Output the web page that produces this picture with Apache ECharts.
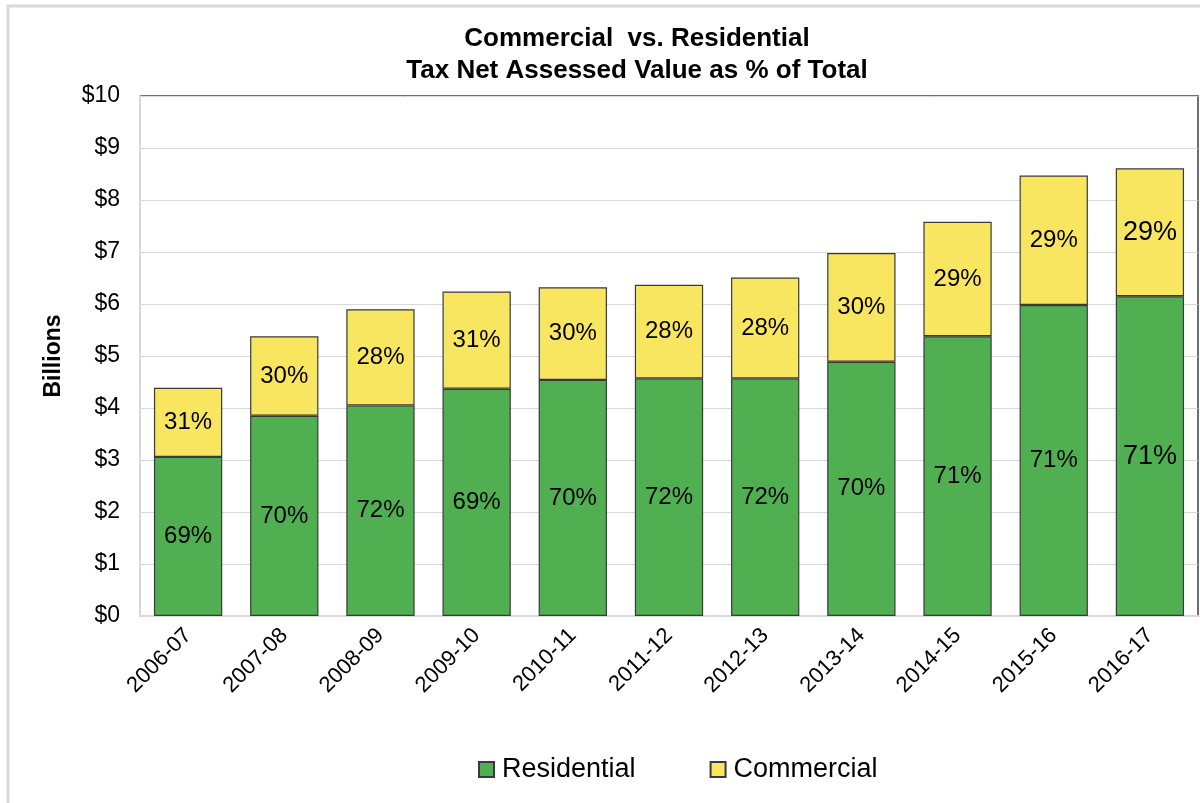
<!DOCTYPE html>
<html>
<head>
<meta charset="utf-8">
<script src="https://cdn.jsdelivr.net/npm/echarts@6/dist/echarts.min.js"></script>
<style>
  html, body { margin: 0; padding: 0; background: #ffffff; }
  #chart { width: 1200px; height: 803px; }
</style>
</head>
<body>
<div id="chart"></div>
<script>
// Fiscal years
const years = ['2006-07', '2007-08', '2008-09', '2009-10', '2010-11', '2011-12',
               '2012-13', '2013-14', '2014-15', '2015-16', '2016-17'];
// Net assessed value, $ billions
const residential = [3.06, 3.85, 4.05, 4.37, 4.54, 4.57, 4.57, 4.89, 5.38, 5.98, 6.15];
const commercial  = [1.33, 1.53, 1.85, 1.87, 1.78, 1.80, 1.94, 2.09, 2.20, 2.49, 2.46];
// Share of total, percent
const residentialShare = [69, 70, 72, 69, 70, 72, 72, 70, 71, 71, 71];
const commercialShare  = [31, 30, 28, 31, 30, 28, 28, 30, 29, 29, 29];
// Value axis ticks
const yMin = 0, yMax = 10, yStep = 1;

const FONT = '"Liberation Sans", Arial, sans-serif';
const chart = echarts.init(document.getElementById('chart'), null, { renderer: 'canvas' });

function shareLabel(shares) {
  return function (p) { return shares[p.dataIndex] + '%'; };
}

function withLabelSize(values) {
  // the final year's labels are set a little larger
  return values.map((v, i) => i === values.length - 1
    ? { value: v, label: { fontSize: 27 } }
    : v);
}

const option = {
  backgroundColor: '#ffffff',
  animation: false,
  graphic: [{
    type: 'rect',
    shape: { x: 8, y: 6, width: 1210, height: 810 },
    style: { fill: 'none', stroke: '#d9d9d9', lineWidth: 3 },
    silent: true,
    z: 0
  }],
  title: {
    text: 'Commercial  vs. Residential\nTax Net Assessed Value as % of Total',
    left: 632,
    top: 18,
    textAlign: 'center',
    textStyle: {
      fontFamily: FONT, fontSize: 26, fontWeight: 'bold', color: '#000000', lineHeight: 32
    }
  },
  legend: {
    left: 478,
    top: 756,
    padding: 0,
    itemWidth: 15,
    itemHeight: 15,
    itemGap: 74,
    icon: 'rect',
    textStyle: { fontFamily: FONT, fontSize: 27, color: '#000000', padding: [0, 0, 0, 3] },
    data: ['Residential', 'Commercial']
  },
  grid: {
    left: 140, right: 2, top: 96, bottom: 187,
    show: true,
    borderColor: '#3f3f3f',
    borderWidth: 1.5,
    backgroundColor: 'transparent'
  },
  xAxis: {
    type: 'category',
    data: years,
    axisLine: { show: true, lineStyle: { color: '#d9d9d9', width: 2 } },
    axisTick: { show: false },
    axisLabel: {
      rotate: 45, margin: 16, interval: 0,
      fontFamily: FONT, fontSize: 22, color: '#000000'
    }
  },
  yAxis: {
    type: 'value',
    min: yMin, max: yMax, interval: yStep,
    name: 'Billions',
    nameLocation: 'middle',
    nameGap: 75,
    nameRotate: 90,
    nameTextStyle: { fontFamily: FONT, fontSize: 23, fontWeight: 'bold', color: '#000000' },
    axisLine: { show: true, lineStyle: { color: '#d9d9d9', width: 2 } },
    axisTick: { show: false },
    splitLine: { show: true, lineStyle: { color: '#d9d9d9', width: 1 } },
    axisLabel: {
      margin: 20,
      fontFamily: FONT, fontSize: 23, color: '#000000',
      formatter: '${value}'
    }
  },
  series: [
    {
      name: 'Residential',
      type: 'bar',
      stack: 'total',
      barCategoryGap: '29%',
      data: withLabelSize(residential),
      itemStyle: { color: '#50AF50', borderColor: '#3a3a3a', borderWidth: 1.2 },
      label: {
        show: true, position: 'inside',
        fontFamily: FONT, fontSize: 24, color: '#000000',
        formatter: shareLabel(residentialShare)
      }
    },
    {
      name: 'Commercial',
      type: 'bar',
      stack: 'total',
      barCategoryGap: '29%',
      data: withLabelSize(commercial),
      itemStyle: { color: '#F8E560', borderColor: '#3a3a3a', borderWidth: 1.2 },
      label: {
        show: true, position: 'inside',
        fontFamily: FONT, fontSize: 24, color: '#000000',
        formatter: shareLabel(commercialShare)
      }
    }
  ]
};

chart.setOption(option);
</script>
</body>
</html>
